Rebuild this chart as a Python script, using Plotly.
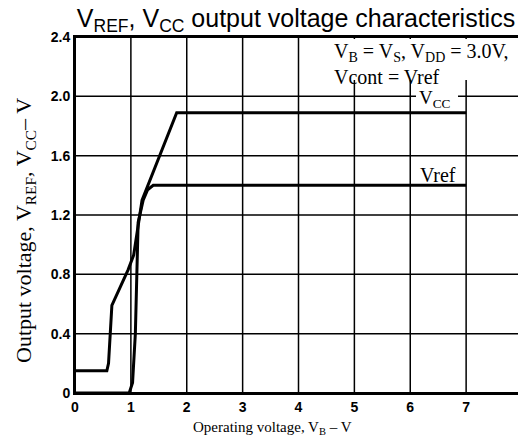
import plotly.graph_objects as go

# Data
vcc_x = [0, 0.57, 0.60, 0.66, 0.95, 1.05, 1.20, 1.82, 7.0]
vcc_y = [0.15, 0.15, 0.20, 0.59, 0.83, 0.93, 1.30, 1.89, 1.89]

vref_x = [0, 0.97, 1.03, 1.08, 1.10, 1.13, 1.22, 1.30, 1.40, 7.0]
vref_y = [0, 0, 0.07, 0.40, 0.70, 1.15, 1.30, 1.37, 1.40, 1.40]

x_ticks = [0, 1, 2, 3, 4, 5, 6, 7, 8]
x_ticklabels = ["0", "1", "2", "3", "4", "5", "6", "7", "8"]
y_ticks = [0, 0.4, 0.8, 1.2, 1.6, 2.0, 2.4]
y_ticklabels = ["0", "0.4", "0.8", "1.2", "1.6", "2.0", "2.4"]

SERIF = "Liberation Serif"
SANS = "Liberation Sans"

OFF = 8  # page body margin
W, H = 526 - OFF, 443 - OFF
L, R, T, B = 75 - OFF, 4, 37 - OFF, 50
PW, PH = W - L - R, H - T - B
X0, X1 = x_ticks[0], x_ticks[-1]
Y0, Y1 = y_ticks[0], y_ticks[-1]


def px(xp):
    return (xp - OFF - L) / PW


def py(yp):
    return (H - B - (yp - OFF)) / PH


fig = go.Figure()
fig.add_trace(go.Scatter(x=vcc_x, y=vcc_y, mode="lines",
                         line=dict(color="black", width=3), showlegend=False))
fig.add_trace(go.Scatter(x=vref_x, y=vref_y, mode="lines",
                         line=dict(color="black", width=3), showlegend=False))

# grid lines at the tick positions and the plot frame
for v in x_ticks[1:-1]:
    fig.add_shape(type="line", xref="x", yref="y", x0=v, x1=v, y0=Y0, y1=Y1,
                  line=dict(color="black", width=1.5), layer="above")
for v in y_ticks[1:-1]:
    fig.add_shape(type="line", xref="x", yref="y", x0=X0, x1=X1, y0=v, y1=v,
                  line=dict(color="black", width=1.5), layer="above")
fig.add_shape(type="rect", xref="x", yref="y", x0=X0, x1=X1, y0=Y0, y1=Y1,
              line=dict(color="black", width=2), layer="above")

# white masks hiding the grid behind the labels
fig.add_annotation(x=4.42, y=2.385, xref="x", yref="y", xanchor="left", yanchor="top",
                   showarrow=False, text=" ", width=194, height=41,
                   bgcolor="white", borderpad=0, borderwidth=0)
fig.add_annotation(x=6.47, y=2.0, xref="x", yref="y", xanchor="center", yanchor="middle",
                   showarrow=False, text=" ", width=42, height=6,
                   bgcolor="white", borderpad=0, borderwidth=0, font=dict(size=4))

fig.add_annotation(x=4.6, y=2.39, xref="x", yref="y", xanchor="left", yanchor="top",
                   align="left", showarrow=False,
                   text="V<sub>B</sub> = V<sub>S</sub>, V<sub>DD</sub> = 3.0V,<br>Vcont = Vref",
                   font=dict(family=SERIF, size=20, color="black"))
fig.add_annotation(x=6.45, y=1.885, xref="x", yref="y", xanchor="center", yanchor="bottom",
                   showarrow=False, text="V<sub>CC</sub>",
                   font=dict(family=SERIF, size=19, color="black"))
fig.add_annotation(x=6.5, y=1.385, xref="x", yref="y", xanchor="center", yanchor="bottom",
                   showarrow=False, text="Vref",
                   font=dict(family=SERIF, size=20, color="black"))

fig.add_annotation(x=px(272), y=py(428), xref="paper", yref="paper", showarrow=False,
                   xanchor="center", yanchor="middle",
                   text="Operating voltage, V<sub>B</sub> – V",
                   font=dict(family=SERIF, size=15, color="black"))
fig.add_annotation(x=px(25), y=py(231), xref="paper", yref="paper", showarrow=False,
                   xanchor="center", yanchor="middle",
                   text="Output voltage, V<sub>REF</sub>, V<sub>CC</sub>– V", textangle=-90,
                   font=dict(family=SERIF, size=22, color="black"))

fig.update_layout(
    width=W, height=H,
    margin=dict(l=L, r=R, t=T, b=B, autoexpand=False),
    paper_bgcolor="white", plot_bgcolor="white",
    title=dict(text="V<sub>REF</sub>, V<sub>CC</sub> output voltage characteristics",
               x=(296 - OFF) / W, xanchor="center", xref="container",
               y=1 - (18 - OFF) / H, yanchor="middle", yref="container",
               font=dict(family=SANS, size=25, color="black")),
    xaxis=dict(range=[X0, X1], tickvals=x_ticks,
               ticktext=["<b>%s</b>" % s for s in x_ticklabels],
               showgrid=False, showline=True, linecolor="black", linewidth=2, mirror=True,
               zeroline=False, automargin=False,
               tickfont=dict(family=SANS, size=14, color="black")),
    yaxis=dict(range=[Y0, Y1], tickvals=y_ticks,
               ticktext=["<b>%s</b>" % s for s in y_ticklabels],
               showgrid=False, showline=True, linecolor="black", linewidth=2, mirror=True,
               zeroline=False, automargin=False,
               tickfont=dict(family=SANS, size=14, color="black")),
)

fig.write_html("out.html")
